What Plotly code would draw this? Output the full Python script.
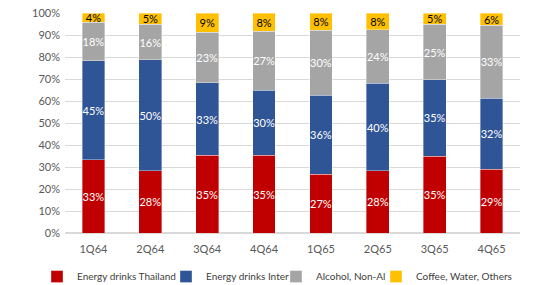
import plotly.graph_objects as go

quarters = ["1Q64", "2Q64", "3Q64", "4Q64", "1Q65", "2Q65", "3Q65", "4Q65"]
energy_thai = [33.3, 28.3, 35.3, 35.3, 26.6, 28.2, 35.0, 29.0]
energy_inter = [44.9, 50.4, 32.9, 29.7, 36.0, 39.8, 34.6, 32.3]
alcohol = [17.5, 16.2, 23.1, 26.6, 29.6, 24.3, 25.3, 33.1]
coffee = [4.3, 5.1, 8.7, 8.4, 7.8, 7.7, 5.1, 5.6]
labels_thai = [33, 28, 35, 35, 27, 28, 35, 29]
labels_inter = [45, 50, 33, 30, 36, 40, 35, 32]
labels_alc = [18, 16, 23, 27, 30, 24, 25, 33]
labels_cof = [4, 5, 9, 8, 8, 8, 5, 6]

series = [
    ("Energy drinks Thailand", energy_thai, labels_thai, "#C00000", "white"),
    ("Energy drinks Inter", energy_inter, labels_inter, "#2F5597", "white"),
    ("Alcohol, Non-Al", alcohol, labels_alc, "#A5A5A5", "white"),
    ("Coffee, Water, Others", coffee, labels_cof, "#FFC000", "black"),
]
legend_ids = ["legend", "legend2", "legend3", "legend4"]
legend_x = [-0.0615, 0.2220, 0.4637, 0.6835]

font = "Lato, Carlito, 'Liberation Sans', sans-serif"
fig = go.Figure()
for (name, vals, labs, color, tcolor), lid in zip(series, legend_ids):
    fig.add_trace(go.Bar(
        name=name, x=quarters, y=vals,
        text=[f"{v}%" for v in labs],
        textposition="inside", insidetextanchor="middle",
        constraintext="none", textangle=0,
        textfont=dict(color=tcolor, size=11, family=font),
        marker=dict(color=color, line=dict(color="rgba(255,255,255,0.6)", width=0.6)),
        hoverinfo="skip", legend=lid,
    ))

legend_common = dict(orientation="h", xanchor="left", y=-0.198, yanchor="middle",
                     font=dict(size=10, color="#404040"), itemwidth=30,
                     bgcolor="rgba(0,0,0,0)")
layout_legends = {lid: dict(x=lx, **legend_common) for lid, lx in zip(legend_ids, legend_x)}

fig.update_layout(
    barmode="stack", bargap=0.6,
    width=534, height=285,
    margin=dict(l=65, r=14, t=13, b=52, autoexpand=False),
    plot_bgcolor="white", paper_bgcolor="white",
    font=dict(family=font, size=11, color="#595959"),
    showlegend=True,
    xaxis=dict(showgrid=False, showline=False, ticks="", ticklabelstandoff=8,
               tickfont=dict(size=11, color="#595959")),
    yaxis=dict(range=[0, 100], dtick=10, ticksuffix="%", showgrid=True, gridcolor="#D9D9D9",
               gridwidth=1, zeroline=True, zerolinecolor="#D9D9D9", ticks="", ticklabelstandoff=4,
               tickfont=dict(size=11, color="#595959")),
    **layout_legends,
)
fig.write_html("out.html", config={"displayModeBar": False},
               post_script="document.body.style.margin='0';document.body.style.padding='0';")
